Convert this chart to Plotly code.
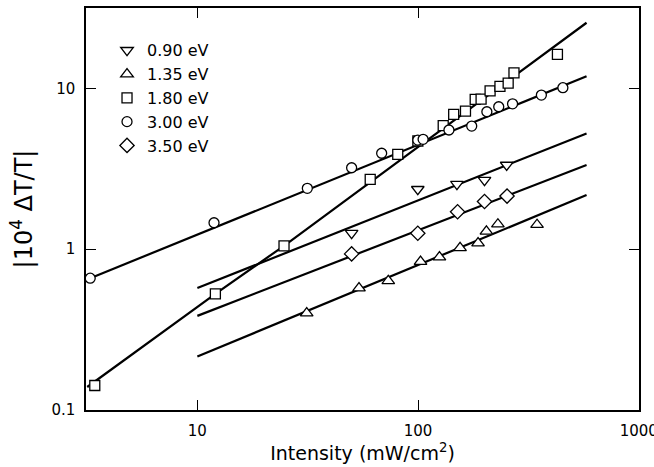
import plotly.graph_objects as go

# ---- data (Intensity in mW/cm^2, |10^4 dT/T|) ----
x_090 = [50.0, 99.7, 150, 200, 252]
y_090 = [1.26, 2.36, 2.54, 2.69, 3.34]

x_135 = [31.3, 54, 73.3, 102.6, 125, 155, 187, 204, 230, 346]
y_135 = [0.40, 0.573, 0.636, 0.837, 0.892, 1.02, 1.09, 1.29, 1.43, 1.42]

x_180 = [3.43, 12.07, 24.7, 60.7, 80.9, 99.8, 130, 145, 164, 181.5, 193, 212, 235, 256, 272, 428]
y_180 = [0.142, 0.527, 1.05, 2.72, 3.89, 4.71, 5.86, 6.89, 7.23, 8.54, 8.58, 9.66, 10.3, 10.8, 12.5, 16.3]

x_300 = [3.27, 11.9, 31.5, 50.0, 68.4, 99.7, 105.4, 138, 175, 205, 232, 268, 362, 453]
y_300 = [0.66, 1.46, 2.39, 3.21, 3.95, 4.77, 4.82, 5.51, 5.83, 7.16, 7.69, 8.02, 9.09, 10.1]

x_350 = [50, 99.7, 151, 200, 253]
y_350 = [0.935, 1.257, 1.71, 1.98, 2.14]

# fitted guide lines (end points / vertices)
fit_090_x = [10, 580]
fit_090_y = [0.573, 5.25]
fit_135_x = [10, 580]
fit_135_y = [0.215, 2.17]
fit_180_x = [3.17, 12.07, 24.7, 580]
fit_180_y = [0.139, 0.527, 1.05, 25.6]
fit_300_x = [3.27, 580]
fit_300_y = [0.66, 11.9]
fit_350_x = [10, 580]
fit_350_y = [0.385, 3.34]

labels = ["0.90 eV", "1.35 eV", "1.80 eV", "3.00 eV", "3.50 eV"]
x_ticks = [10, 100, 1000]
x_ticktext = ["10", "100", "1000"]
y_ticks = [0.1, 1, 10]
y_ticktext = ["0.1", "1", "10"]

FONT = "DejaVu Sans"

fig = go.Figure()

series = [
    (x_090, y_090, fit_090_x, fit_090_y, "triangle-down", 11),
    (x_135, y_135, fit_135_x, fit_135_y, "triangle-up", 11),
    (x_180, y_180, fit_180_x, fit_180_y, "square", 10),
    (x_300, y_300, fit_300_x, fit_300_y, "circle", 10),
    (x_350, y_350, fit_350_x, fit_350_y, "diamond", 11),
]

for s in series:
    fig.add_trace(go.Scatter(x=s[2], y=s[3], mode="lines",
                             line=dict(color="black", width=2.2),
                             showlegend=False, hoverinfo="skip"))

for lab, (xs, ys, _, _, sym, sz) in zip(labels, series):
    fig.add_trace(go.Scatter(
        x=xs, y=ys, mode="markers", name=lab,
        marker=dict(symbol=sym, size=sz, color="white",
                    line=dict(color="black", width=1.3)),
        cliponaxis=False))

fig.update_layout(
    width=654, height=467,
    margin=dict(l=86, r=15, t=8, b=57, autoexpand=False),
    paper_bgcolor="white", plot_bgcolor="white",
    font=dict(family=FONT, color="black"),
    legend=dict(x=0.038, y=0.937, xanchor="left", yanchor="top",
                bgcolor="rgba(0,0,0,0)", font=dict(size=16, family=FONT)),
    xaxis=dict(type="log", range=[0.4955, 3.001], automargin=False,
               tickvals=x_ticks, ticktext=x_ticktext,
               ticks="inside", ticklen=10, tickwidth=1.2, tickcolor="black",
               showline=True, linecolor="black", linewidth=1.5, mirror="ticks",
               showgrid=False, zeroline=False, ticklabeloverflow="allow",
               tickfont=dict(size=15), ticklabelstandoff=6,
               title=dict(text="Intensity (mW/cm<sup>2</sup>)",
                          font=dict(size=19), standoff=6)),
    yaxis=dict(type="log", range=[-1, 1.5], automargin=False,
               tickvals=y_ticks, ticktext=y_ticktext,
               ticks="inside", ticklen=10, tickwidth=1.2, tickcolor="black",
               showline=True, linecolor="black", linewidth=1.5, mirror="ticks",
               showgrid=False, zeroline=False, ticklabeloverflow="allow",
               tickfont=dict(size=15), ticklabelstandoff=6,
               title=dict(text="|10<sup>4</sup> ΔT/T|",
                          font=dict(size=24), standoff=12)),
)

fig.write_html(
    "out.html",
    config={"displayModeBar": False},
    post_script="document.body.style.margin='0';document.body.style.overflow='hidden';",
)
